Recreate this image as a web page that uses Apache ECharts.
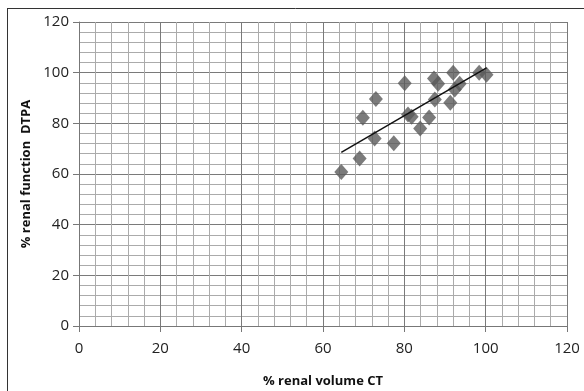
<!DOCTYPE html>
<html>
<head>
<meta charset="utf-8">
<script src="https://cdn.jsdelivr.net/npm/echarts@6/dist/echarts.min.js"></script>
<style>
  html, body { margin: 0; padding: 0; background: #fff; }
  #chart { width: 584px; height: 391px; }
</style>
</head>
<body>
<div id="chart"></div>
<script>
  // % renal volume CT (x) and % renal function DTPA (y)
  var volumeCT = [64.5, 69.0, 69.8, 73.0, 72.7, 77.4, 80.1, 80.9, 81.8, 83.9, 86.1, 87.5, 87.3, 88.3, 92.0, 91.3, 92.4, 93.6, 98.4, 100.2]
  var functionDTPA = [60.8, 66.1, 82.2, 89.6, 74.0, 72.1, 95.8, 83.5, 82.6, 78.0, 82.3, 89.4, 97.7, 95.6, 100.0, 88.1, 93.4, 95.6, 100.0, 99.2]
  var axisTicks = [0, 20, 40, 60, 80, 100, 120]

  var points = volumeCT.map(function (x, i) { return [x, functionDTPA[i]] })

  // linear trend line (least squares), spanning the data range
  var n = points.length
  var mx = volumeCT.reduce(function (a, b) { return a + b }, 0) / n
  var my = functionDTPA.reduce(function (a, b) { return a + b }, 0) / n
  var sxy = 0, sxx = 0
  for (var i = 0; i < n; i++) {
    sxy += (volumeCT[i] - mx) * (functionDTPA[i] - my)
    sxx += (volumeCT[i] - mx) * (volumeCT[i] - mx)
  }
  var slope = sxy / sxx
  var icpt = my - slope * mx
  var xMin = Math.min.apply(null, volumeCT)
  var xMax = Math.max.apply(null, volumeCT)
  var trend = [[xMin, icpt + slope * xMin], [xMax, icpt + slope * xMax]]

  var font = 'Open Sans'
  function makeAxis (name) {
    return {
      type: 'value',
      min: axisTicks[0],
      max: axisTicks[axisTicks.length - 1],
      interval: 20,
      name: name,
      nameLocation: 'middle',
      nameTextStyle: { fontFamily: font, fontSize: 13, fontWeight: 'bold', color: '#111' },
      axisLine: { show: true, lineStyle: { color: '#777', width: 1 } },
      axisTick: { show: true, length: 6, lineStyle: { color: '#777' } },
      axisLabel: { fontFamily: font, fontSize: 15, color: '#222' },
      splitLine: { show: true, lineStyle: { color: '#7a7a7a', width: 1 } },
      minorTick: { show: false, splitNumber: 5 },
      minorSplitLine: { show: true, lineStyle: { color: '#ababab', width: 1 } }
    }
  }

  var chart = echarts.init(document.getElementById('chart'))
  var xAxis = makeAxis('% renal volume CT')
  xAxis.nameGap = 49
  xAxis.axisLabel.margin = 15
  var yAxis = makeAxis('% renal function  DTPA')
  yAxis.nameGap = 42
  yAxis.axisLabel.margin = 10

  chart.setOption({
    animation: false,
    grid: { left: 79, right: 17, top: 22, bottom: 65, containLabel: false, outerBoundsMode: 'none' },
    xAxis: xAxis,
    yAxis: yAxis,
    graphic: [
      { type: 'line', shape: { x1: 7, y1: 8.5, x2: 584, y2: 8.5 }, style: { stroke: '#333', lineWidth: 1 } },
      { type: 'line', shape: { x1: 7.5, y1: 8, x2: 7.5, y2: 391 }, style: { stroke: '#333', lineWidth: 1 } }
    ],
    series: [
      {
        type: 'scatter',
        symbol: 'diamond',
        symbolSize: [14, 16],
        itemStyle: { color: '#5a5a5a' },
        data: points,
        z: 2
      },
      {
        type: 'line',
        data: trend,
        showSymbol: false,
        lineStyle: { color: '#111', width: 1.5 },
        z: 3
      }
    ]
  })
</script>
</body>
</html>
